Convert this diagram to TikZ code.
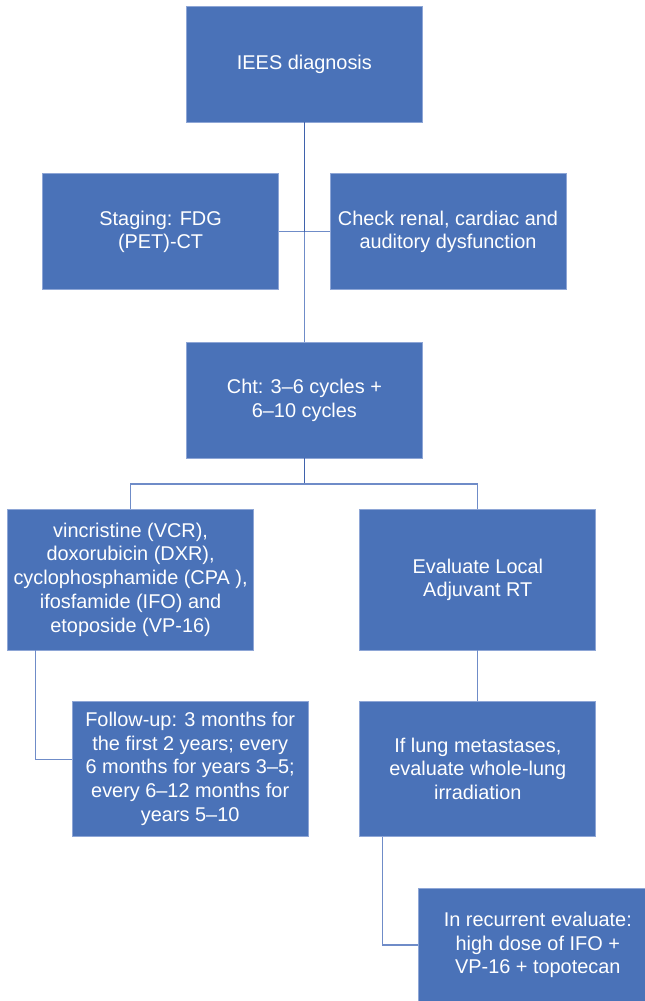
\documentclass[tikz,border=0pt]{standalone}
\usepackage{fontspec}
\setmainfont{Liberation Sans}
\usetikzlibrary{positioning}
\definecolor{boxblue}{HTML}{4A72B8}
\definecolor{boxrim}{HTML}{8EA6D6}
\definecolor{linkdark}{HTML}{3F62AC}
\definecolor{linklight}{HTML}{6F8CC8}
\tikzset{
    flow box/.style = {draw=boxrim, line width=0.8pt, fill=boxblue, text=white,
        align=center, inner sep=2pt, minimum width=236pt, minimum height=116pt,
        font=\fontsize{19.9}{23.7}\selectfont},
}
\tikzset{
    link/.style = {draw=linklight, line width=1.1pt},
    trunk/.style = {draw=linkdark, line width=1.4pt},
}
\begin{document}
\begin{tikzpicture}[x=1pt, y=-1pt]
        \path[use as bounding box, clip] (0,0) rectangle (645,1001);

        \node[flow box] (diag) at (304.4, 64) {IEES diagnosis};
        \node[flow box] (staging) at (160.6, 231.8) {Staging: FDG\\(PET)-CT};
        \node[flow box] (check) at (448, 231.8) {Check renal, cardiac and\\auditory dysfunction};
        \node[flow box] (cht) at (304.4, 400) {Cht: 3--6 cycles +\\6--10 cycles};
        \node[flow box, minimum width=246.4pt, minimum height=141pt] (drugs) at (130.6, 579.5)
            {vincristine (VCR),\\doxorubicin (DXR),\\cyclophosphamide (CPA ),\\ifosfamide (IFO) and\\etoposide (VP-16)};
        \node[flow box, minimum height=140.3pt] (localrt) at (477.8, 579.8) {Evaluate Local\\Adjuvant RT};
        \node[flow box, minimum height=135pt] (followup) at (190.2, 768.8)
            {Follow-up: 3 months for\\the first 2 years; every\\6 months for years 3--5;\\every 6--12 months for\\years 5--10};
        \node[flow box, minimum height=135pt] (lung) at (477.8, 768.8)
            {If lung metastases,\\evaluate whole-lung\\irradiation};
        \node[flow box, minimum width=239pt, minimum height=114pt] (recur) at (537.8, 945)
            {In recurrent evaluate:\\high dose of IFO +\\VP-16 + topotecan};

        \coordinate (split) at (304.4, 484);
        \coordinate (side) at (304.4, 231.8);

        \draw[link] (staging.east) -- (check.west);
        \draw[trunk] (diag) -- (side);
        \draw[link] (side) -- (cht);
        \draw[trunk] (cht) -- (split);
        \draw[link] (drugs.north) |- (split) -| (localrt.north);
        \draw[link] ([xshift=28.2pt]drugs.south west) |- ([yshift=9.5pt]followup.west);
        \draw[link] (localrt) -- (lung);
        \draw[link] ([xshift=23.2pt]lung.south west) |- (recur.west);
    \end{tikzpicture}
\end{document}
